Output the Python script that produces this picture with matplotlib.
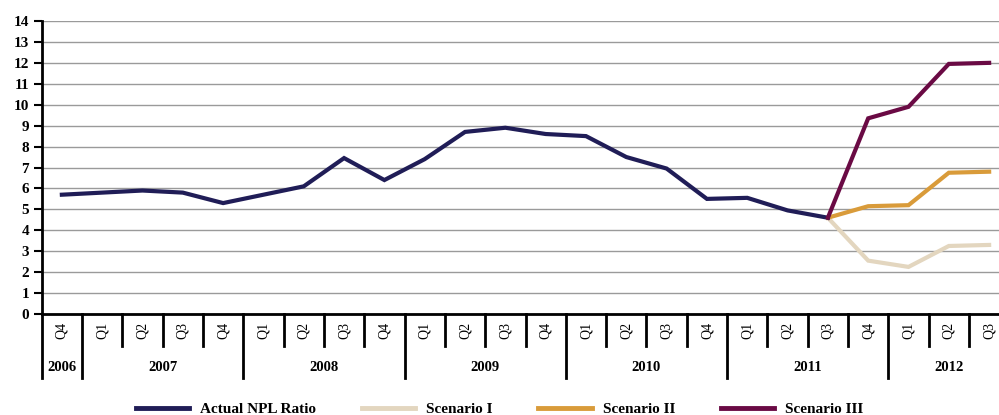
import matplotlib.pyplot as plt
import matplotlib.transforms as mtransforms
from matplotlib.lines import Line2D

plt.rcParams['font.family'] = ['Liberation Serif', 'DejaVu Serif']

# quarters 2006Q4 .. 2012Q3
quarters = ["Q4",
            "Q1", "Q2", "Q3", "Q4",
            "Q1", "Q2", "Q3", "Q4",
            "Q1", "Q2", "Q3", "Q4",
            "Q1", "Q2", "Q3", "Q4",
            "Q1", "Q2", "Q3", "Q4",
            "Q1", "Q2", "Q3"]
years = ["2006", "2007", "2008", "2009", "2010", "2011", "2012"]
year_counts = [1, 4, 4, 4, 4, 4, 3]

actual = [5.7, 5.8, 5.9, 5.8, 5.3, 5.7, 6.1, 7.45, 6.4, 7.4, 8.7, 8.9,
          8.6, 8.5, 7.5, 6.95, 5.5, 5.55, 4.95, 4.6]
scen_1 = [4.6, 2.55, 2.25, 3.25, 3.3]
scen_2 = [4.6, 5.15, 5.2, 6.75, 6.8]
scen_3 = [4.6, 9.35, 9.9, 11.95, 12.0]

c_actual = "#201d57"
c_s1 = "#e3d6bf"
c_s2 = "#d99b3a"
c_s3 = "#6a0a44"

fig = plt.figure(figsize=(9.99, 4.15), dpi=100)
ax = fig.add_axes([41.7 / 999, 101 / 415, 967.6 / 999, 293 / 415])

x_act = list(range(len(actual)))
x_scen = list(range(len(actual) - 1, len(actual) - 1 + len(scen_1)))

lw = 3
ax.plot(x_act, actual, color=c_actual, lw=lw, solid_joinstyle="miter", zorder=5)
ax.plot(x_scen, scen_1, color=c_s1, lw=lw, solid_joinstyle="miter", zorder=3)
ax.plot(x_scen, scen_2, color=c_s2, lw=lw, solid_joinstyle="miter", zorder=4)
ax.plot(x_scen, scen_3, color=c_s3, lw=lw, solid_joinstyle="miter", zorder=6)

ax.set_xlim(-0.5, len(quarters) - 0.5)
ax.set_ylim(0, 14)
ax.set_yticks(range(0, 15))
ax.set_yticklabels([str(i) for i in range(15)], fontweight="bold", fontsize=11)
ax.tick_params(axis="y", direction="out", length=6, width=1.5, pad=3, colors="black")
ax.set_xticks([])
ax.yaxis.grid(True, color="#9a9a9a", lw=1)
ax.set_axisbelow(True)
for s in ["top", "right"]:
    ax.spines[s].set_visible(False)
ax.spines["left"].set_linewidth(2)
ax.spines["bottom"].set_linewidth(2)

trans = mtransforms.blended_transform_factory(ax.transData, ax.transAxes)
px = 1 / 293.0  # axes fraction per pixel (vertical)

# quarter labels and separators
for i, q in enumerate(quarters):
    ax.text(i, -16 * px, q, rotation=90, ha="center", va="center",
            fontsize=10, transform=trans, clip_on=False)

year_edges = [-0.5]
for n in year_counts:
    year_edges.append(year_edges[-1] + n)

for i in range(len(quarters) + 1):
    xe = i - 0.5
    long_ = any(abs(xe - e) < 1e-6 for e in year_edges[:-1])
    bottom = -64 * px if long_ else -32 * px
    ax.plot([xe, xe], [0, bottom], color="black", lw=2, transform=trans,
            clip_on=False)

for k, y in enumerate(years):
    mid = (year_edges[k] + year_edges[k + 1]) / 2
    ax.text(mid, -53 * px, y, ha="center", va="center", fontsize=10.5,
            fontweight="bold", transform=trans, clip_on=False)

handles = [Line2D([], [], color=c, lw=3.5) for c in [c_actual, c_s1, c_s2, c_s3]]
labels = ["Actual NPL Ratio", "Scenario I", "Scenario II", "Scenario III"]
fig.legend(handles, labels, loc="center", bbox_to_anchor=(0.5, 6 / 415), ncol=4,
           frameon=False, handlelength=3.5, handletextpad=0.7, columnspacing=3.0,
           prop={"weight": "bold", "size": 11})

fig.savefig("out.png", dpi=100)
